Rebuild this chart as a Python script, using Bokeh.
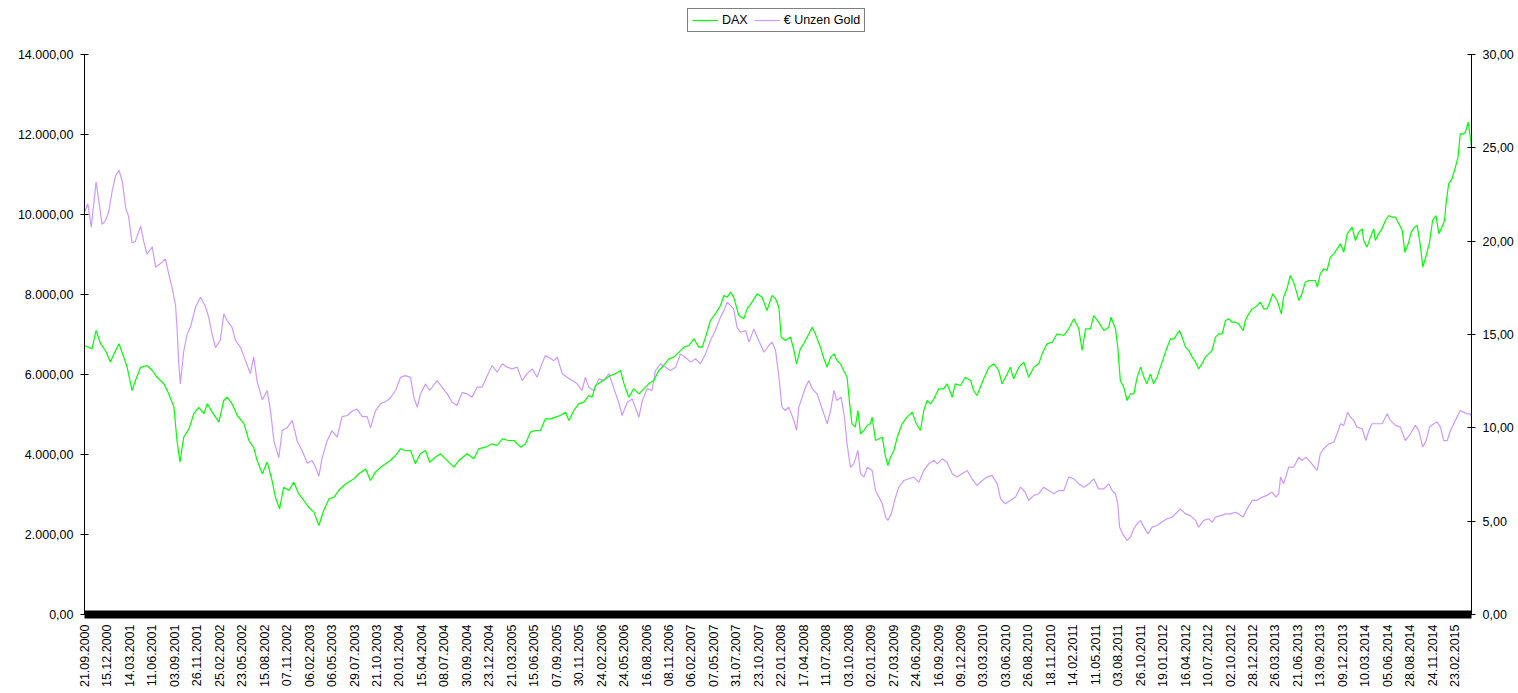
import math
from bokeh.plotting import figure
from bokeh.layouts import column
from bokeh.models import Range1d, LinearAxis, FixedTicker, Legend, LegendItem
from bokeh.embed import file_html
from bokeh.resources import INLINE

# ---------------- data ----------------
# x = trading-day index (category axis, one label every 60 trading days)
date_labels = [
    "21.09.2000", "15.12.2000", "14.03.2001", "11.06.2001", "03.09.2001", "26.11.2001",
    "25.02.2002", "23.05.2002", "15.08.2002", "07.11.2002", "06.02.2003", "06.05.2003",
    "29.07.2003", "21.10.2003", "20.01.2004", "15.04.2004", "08.07.2004", "30.09.2004",
    "23.12.2004", "21.03.2005", "15.06.2005", "07.09.2005", "30.11.2005", "24.02.2006",
    "24.05.2006", "16.08.2006", "08.11.2006", "06.02.2007", "07.05.2007", "31.07.2007",
    "23.10.2007", "22.01.2008", "17.04.2008", "11.07.2008", "03.10.2008", "02.01.2009",
    "27.03.2009", "24.06.2009", "16.09.2009", "09.12.2009", "03.03.2010", "03.06.2010",
    "26.08.2010", "18.11.2010", "14.02.2011", "11.05.2011", "03.08.2011", "26.10.2011",
    "19.01.2012", "16.04.2012", "10.07.2012", "02.10.2012", "28.12.2012", "26.03.2013",
    "21.06.2013", "13.09.2013", "09.12.2013", "10.03.2014", "05.06.2014", "28.08.2014",
    "24.11.2014", "23.02.2015",
]
label_step = 60
n_days = 3705

dax_idx = [0, 20, 31, 43, 56, 69, 83, 92, 105, 114, 127, 136, 150, 167, 181, 194, 212, 225, 239, 247,
           255, 265, 279, 292, 305, 319, 328, 341, 359, 372, 381, 394, 408, 426, 439, 452, 461, 475, 488, 501,
           510, 521, 532, 546, 559, 572, 586, 599, 613, 626, 639, 653, 666, 679, 693, 706, 719, 733, 751, 764,
           777, 791, 804, 817, 831, 844, 857, 871, 884, 897, 911,
           922, 937, 951, 964, 987, 1000, 1022, 1040, 1053, 1071, 1089, 1102, 1116, 1133, 1147, 1165, 1178, 1191,
           1205, 1218, 1231, 1245, 1258, 1271, 1285, 1294, 1307, 1320, 1334, 1347, 1356, 1365, 1378, 1392, 1405,
           1418, 1432, 1441, 1454, 1467, 1481, 1494, 1507, 1521, 1534, 1547, 1561, 1574, 1588, 1601, 1614, 1628,
           1641, 1650, 1659, 1672, 1685, 1699, 1708, 1717, 1726, 1734, 1748, 1761, 1770, 1783, 1797, 1810, 1823,
           1832, 1837,
           1846, 1855, 1861, 1872, 1886, 1895, 1902, 1912, 1921, 1935, 1944, 1952, 1966, 1975, 1984, 1993, 2002,
           2010, 2019, 2028, 2037, 2044, 2050, 2059, 2066, 2073, 2082, 2091, 2099, 2104, 2113, 2122, 2131, 2140,
           2146, 2153, 2162, 2171, 2184, 2197, 2211, 2220, 2233, 2242, 2251, 2260, 2269, 2282, 2295, 2304, 2318,
           2326, 2340, 2353, 2367, 2375, 2384, 2393, 2402, 2416, 2429, 2442, 2451, 2465, 2473, 2482, 2496, 2509,
           2522, 2536, 2549, 2558, 2571, 2585, 2598, 2616, 2629, 2643, 2656, 2665, 2674, 2687, 2696, 2709, 2723,
           2736, 2742, 2754, 2760,
           2767, 2776, 2785, 2794, 2803, 2812, 2821, 2830, 2838, 2847, 2856, 2865, 2874, 2883, 2892, 2901, 2910,
           2919, 2925, 2932, 2941, 2950, 2959, 2968, 2976, 2985, 2994, 3003, 3012, 3021, 3030, 3039, 3048, 3057,
           3065, 3074, 3083, 3095, 3101, 3110, 3119, 3128, 3141, 3150, 3159, 3168, 3174, 3186, 3197, 3203, 3212,
           3221, 3230, 3239, 3244, 3252, 3261, 3270, 3279, 3288, 3293, 3301, 3310, 3319, 3328, 3337, 3346, 3355,
           3364, 3373, 3386, 3395, 3404, 3413, 3417, 3426, 3435, 3444, 3448, 3457, 3466, 3475, 3484, 3493, 3502,
           3511, 3520, 3527, 3536, 3544, 3553, 3560, 3569, 3575, 3584, 3593, 3601, 3610, 3618, 3626, 3633, 3637,
           3644, 3653, 3662, 3669, 3675, 3684, 3689, 3696, 3702, 3705]
dax_val = [6725, 6640, 7100, 6770, 6600, 6310, 6600, 6770, 6430, 6180, 5600, 5850, 6180, 6225, 6100, 5930, 5770, 5520, 5180, 4350,
           3810, 4430, 4640, 5020, 5180, 5020, 5270, 5060, 4810, 5350, 5430, 5270, 4975, 4770, 4350, 4180, 3850, 3520, 3810, 3350,
           2930, 2640, 3180, 3100, 3310, 3020, 2850, 2680, 2560, 2225, 2600, 2890, 2930, 3100, 3230, 3310, 3390, 3520, 3640, 3350,
           3560, 3680, 3770, 3850, 3975, 4140, 4100, 4100, 3770, 4020, 4100,
           3808, 3933, 4017, 3892, 3683, 3850, 4017, 3892, 4142, 4183, 4267, 4225, 4392, 4350, 4350, 4183, 4267, 4558,
           4600, 4600, 4892, 4892, 4933, 4975, 5058, 4850, 5100, 5267, 5308, 5475, 5433, 5725, 5808, 5892, 5975,
           6017, 6100, 5767, 5433, 5642, 5517, 5642, 5767, 5850, 6100, 6225, 6392, 6433, 6558, 6683, 6725, 6892,
           6683, 6683, 6933, 7350, 7517, 7725, 7975, 7933, 8058, 7933, 7475, 7392, 7642, 7808, 8017, 7933, 7600,
           7850, 7975,
           7892, 7683, 6933, 6850, 6933, 6600, 6267, 6642, 6767, 7017, 7183, 7017, 6683, 6392, 6183, 6433, 6517,
           6350, 6267, 6100, 5933, 5267, 4767, 4683, 5100, 4517, 4600, 4725, 4767, 4933, 4350, 4392, 4433, 3933,
           3725, 3933, 4100, 4433, 4767, 4933, 5058, 4808, 4600, 5100, 5350, 5267, 5392, 5642, 5642, 5767, 5433,
           5767, 5725, 5933, 5850, 5600, 5475, 5683, 5892, 6183, 6267, 6100, 5767, 6017, 6183, 5892, 6183, 6308,
           5933, 6183, 6267, 6517, 6767, 6808, 7017, 6975, 7142, 7392, 7142, 6600, 7142, 7142, 7475, 7308, 7100,
           7183, 7433, 7142, 6683,
           5850, 5683, 5350, 5517, 5517, 5933, 6183, 5933, 5767, 6017, 5767, 5933, 6183, 6433, 6683, 6892, 6892,
           7017, 7100, 6933, 6683, 6600, 6433, 6308, 6142, 6267, 6433, 6517, 6600, 6933, 7017, 7017, 7350, 7392,
           7308, 7308, 7267, 7100, 7350, 7517, 7642, 7683, 7808, 7642, 7642, 7850, 8017, 7850, 7517, 7933, 8142,
           8475, 8308, 8017, 7850, 8017, 8308, 8350, 8350, 8350, 8183, 8517, 8642, 8600, 8933, 9017, 9142, 9267,
           9058, 9517, 9683, 9350, 9558, 9642, 9350, 9183, 9433, 9642, 9350, 9517, 9642, 9850, 9975, 9933, 9933,
           9767, 9600, 9058, 9267, 9558, 9683, 9725, 9183, 8683, 8975, 9308, 9850, 9975, 9517, 9683, 9850, 10267,
           10767, 10892, 11183, 11433, 12017, 12017, 12058, 12308, 11933, 11683]

gold_idx = [0, 9, 18, 31, 38, 47, 56, 65, 74, 83, 92, 101, 110, 118, 127, 136, 150, 158, 167, 181, 190, 203, 216,
            225, 234, 243, 247, 252, 256, 265, 274, 283, 297, 310, 323, 332, 341, 350, 363, 372, 381, 394, 403, 417,
            430, 443, 452, 461, 475, 488, 497, 506, 519, 528, 541, 555, 568, 581, 595, 608, 617, 626, 635, 648, 661,
            675, 688, 702, 715, 728, 742, 755, 764, 777, 791, 804, 817, 831, 844, 857, 871, 880, 889, 897, 911,
            922, 942, 955, 969, 982, 995, 1009, 1022, 1035, 1049, 1062, 1076, 1089, 1102, 1116, 1129, 1142, 1156,
            1169, 1182, 1196, 1209, 1222, 1231, 1240, 1254, 1263, 1276, 1289, 1303, 1316, 1329, 1338, 1347, 1360,
            1374, 1387, 1401, 1414, 1427, 1436, 1450, 1463, 1481, 1490, 1503, 1516, 1525, 1539, 1552, 1565, 1579,
            1592, 1605, 1619, 1632, 1645, 1659, 1672, 1685, 1699, 1708, 1717, 1726, 1734, 1743, 1752, 1766, 1775,
            1788, 1801, 1815, 1828, 1837,
            1846, 1855, 1863, 1872, 1881, 1895, 1902, 1908, 1917, 1926, 1935, 1944, 1957, 1966, 1975, 1984, 1993,
            2002, 2010, 2021, 2030, 2037, 2046, 2055, 2066, 2073, 2082, 2091, 2104, 2113, 2122, 2131, 2140, 2146,
            2155, 2164, 2175, 2189, 2202, 2215, 2229, 2242, 2255, 2269, 2278, 2291, 2304, 2318, 2331, 2344, 2358,
            2371, 2384, 2398, 2411, 2424, 2438, 2447, 2460, 2473, 2487, 2500, 2513, 2522, 2536, 2549, 2562, 2576,
            2589, 2603, 2616, 2629, 2643, 2656, 2669, 2683, 2696, 2709, 2723, 2736, 2745, 2754, 2760,
            2765, 2773, 2785, 2794, 2803, 2812, 2821, 2830, 2841, 2852, 2865, 2878, 2892, 2905, 2919, 2927, 2941,
            2954, 2968, 2976, 2990, 3003, 3012, 3021, 3034, 3048, 3061, 3074, 3083, 3095, 3106, 3119, 3132, 3146,
            3159, 3172, 3183, 3190, 3195, 3203, 3217, 3230, 3244, 3252, 3263, 3275, 3285, 3293, 3301, 3310, 3324,
            3337, 3346, 3355, 3364, 3374, 3382, 3390, 3399, 3413, 3423, 3431, 3439, 3453, 3466, 3480, 3488, 3502,
            3515, 3528, 3542, 3555, 3564, 3575, 3584, 3593, 3604, 3613, 3622, 3631, 3640, 3649, 3662, 3675, 3684,
            3693, 3702, 3705]
gold_val = [21.55, 22.0, 20.75, 23.16, 22.2, 20.9, 21.1, 21.6, 22.7, 23.5, 23.8, 23.2, 21.8, 21.3, 19.9, 20.0, 20.8, 20.0,
            19.3, 19.7, 18.6, 18.8, 19.05, 18.25, 17.5, 16.6, 15.4, 13.4, 12.35, 14.1, 15.0, 15.4, 16.5, 17.0, 16.5,
            15.9, 15.0, 14.3, 14.7, 16.1, 15.75, 15.4, 14.7, 14.3, 13.6, 12.9, 13.8, 12.5, 11.5, 12.0, 10.9, 9.3, 8.4,
            9.85, 10.0, 10.4, 9.3, 8.8, 8.1, 8.25, 7.9, 7.4, 8.4, 9.3, 9.85, 9.5, 10.6, 10.66, 10.9, 11.0, 10.6, 10.6,
            10.0, 10.9, 11.3, 11.4, 11.6, 12.0, 12.7, 12.8, 12.7, 11.6, 11.1, 11.8, 12.35,
            12.0, 12.53, 12.18, 11.82, 11.37, 11.2, 11.9, 11.82, 11.64, 12.18, 12.18, 12.8, 13.34, 12.98, 13.43,
            13.25, 13.16, 13.25, 12.53, 12.9, 13.16, 12.71, 13.43, 13.87, 13.78, 13.6, 13.78, 12.9, 12.71, 12.53,
            12.36, 12.0, 12.71, 12.18, 12.0, 12.62, 12.53, 12.9, 12.1, 11.37, 10.66, 11.37, 11.55, 10.57, 11.46,
            12.1, 12.0, 13.07, 13.43, 13.25, 13.07, 13.25, 13.96, 13.78, 13.52, 13.7, 13.43, 13.96, 14.68, 15.21,
            15.93, 16.28, 16.73, 16.55, 16.37, 15.39, 15.12, 15.21, 14.59, 15.3, 14.68, 14.05, 14.41, 14.59,
            14.14, 12.72, 11.11, 10.93, 11.11, 10.39, 9.86, 11.11, 11.64, 12.18, 12.54, 12.09, 11.82, 11.29, 10.75,
            10.21, 10.93, 12.0, 11.46, 11.64, 10.57, 9.14, 7.89, 8.07, 8.79, 7.54, 7.36, 7.89, 7.71, 6.64, 6.29,
            5.93, 5.22, 5.04, 5.39, 6.11, 6.82, 7.18, 7.27, 7.36, 7.09, 7.71, 8.07, 8.25, 8.07, 8.34, 8.16, 7.54,
            7.36, 7.54, 7.71, 7.27, 6.91, 7.18, 7.36, 7.45, 7.0, 6.2, 5.93, 6.11, 6.29, 6.82, 6.55, 6.11, 6.38,
            6.47, 6.82, 6.64, 6.47, 6.64, 6.64, 7.36, 7.27, 7.0, 6.82, 7.0, 7.27, 6.73, 6.73, 7.0, 6.64, 6.47, 5.93,
            4.68, 4.32, 3.97, 4.15, 4.59, 4.86, 5.04, 4.68, 4.32, 4.68, 4.77, 4.95, 5.13, 5.22, 5.48, 5.66, 5.39,
            5.3, 5.04, 4.68, 5.04, 5.13, 4.95, 5.22, 5.3, 5.39, 5.39, 5.48, 5.39, 5.22, 5.66, 6.11, 6.11, 6.29,
            6.38, 6.56, 6.29, 6.47, 7.36, 7.0, 7.9, 7.9, 8.43, 8.25, 8.43, 8.16, 7.9, 7.72, 8.61, 8.88, 9.14,
            9.23, 9.68, 10.22, 10.13, 10.84, 10.57, 10.4, 10.04, 9.95, 9.32, 9.86, 10.22, 10.22, 10.22, 10.75, 10.4,
            10.13, 10.04, 9.32, 9.68, 10.13, 9.86, 8.97, 9.32, 10.04, 10.22, 10.31, 10.04, 9.32, 9.32, 9.86, 10.4,
            10.93, 10.84, 10.75, 10.75, 10.57]

dax_ticks = [0, 2000, 4000, 6000, 8000, 10000, 12000, 14000]
dax_tick_labels = ["0,00", "2.000,00", "4.000,00", "6.000,00", "8.000,00", "10.000,00", "12.000,00", "14.000,00"]
gold_ticks = [0, 5, 10, 15, 20, 25, 30]
gold_tick_labels = ["0,00", "5,00", "10,00", "15,00", "20,00", "25,00", "30,00"]
series_names = ["DAX", "€ Unzen Gold"]
series_colors = ["#00FF00", "#CC99FF"]

# ---------------- layout constants ----------------
FONT = "Liberation Sans"
FS = "12.5px"
W = 1518
TOP_H = 46          # strip that holds the legend
MAIN_H = 693 - TOP_H

# ---------------- legend strip ----------------
# same series drawn here far outside the visible range: they only feed the legend glyphs
top = figure(width=W, height=TOP_H, output_backend="svg", toolbar_location=None,
             x_range=Range1d(0, n_days), y_range=Range1d(-200000, -100000),
             min_border_left=0, min_border_right=0, min_border_top=0, min_border_bottom=0)
top.extra_y_ranges = {"gold": Range1d(-200, -100)}
top.axis.visible = False
top.xgrid.visible = False
top.ygrid.visible = False
top.outline_line_color = None
lg_dax = top.line(dax_idx, dax_val, line_color=series_colors[0], line_width=1.2)
lg_gold = top.line(gold_idx, gold_val, line_color=series_colors[1], line_width=1.2, y_range_name="gold")
legend = Legend(items=[LegendItem(label=series_names[0], renderers=[lg_dax]),
                       LegendItem(label=series_names[1], renderers=[lg_gold])],
                location=(603, 14), orientation="horizontal",
                margin=0, padding=4, spacing=6, label_standoff=4,
                glyph_width=26, glyph_height=14, label_height=14,
                label_text_font=FONT, label_text_font_size=FS, label_text_color="black",
                border_line_color="black", border_line_width=1, background_fill_alpha=1.0)
top.add_layout(legend, "center")

# ---------------- main chart ----------------
p = figure(width=W, height=MAIN_H, output_backend="svg", toolbar_location=None,
           x_range=Range1d(0, n_days), y_range=Range1d(0, 14000),
           min_border_left=84, min_border_right=47, min_border_top=8, min_border_bottom=79)
p.extra_y_ranges = {"gold": Range1d(0, 30)}
p.xgrid.visible = False
p.ygrid.visible = False
p.outline_line_color = None
p.background_fill_color = "white"
p.border_fill_color = "white"

# x axis (category-like, dense tick band)
xa = p.xaxis[0]
date_pos = [i * label_step for i in range(len(date_labels))]
xa.ticker = FixedTicker(ticks=date_pos, minor_ticks=[])
xa.major_label_overrides = {pos: lab for pos, lab in zip(date_pos, date_labels)}
xa.major_label_orientation = math.pi / 2
xa.axis_line_width = 8
xa.axis_line_color = "black"
xa.major_tick_in = 0
xa.major_tick_out = 0
xa.minor_tick_in = 0
xa.minor_tick_out = 0
xa.major_label_standoff = 10
xa.major_label_text_font = FONT
xa.major_label_text_font_size = FS
xa.major_label_text_color = "black"

# left axis
ya = p.yaxis[0]
ya.ticker = FixedTicker(ticks=dax_ticks, minor_ticks=[])
ya.major_label_overrides = {t: l for t, l in zip(dax_ticks, dax_tick_labels)}
ya.major_tick_in = 4
ya.major_tick_out = 4
ya.minor_tick_in = 0
ya.minor_tick_out = 0
ya.major_label_standoff = 7
ya.major_label_text_font = FONT
ya.major_label_text_font_size = FS
ya.major_label_text_color = "black"
ya.axis_line_color = "black"
ya.major_tick_line_color = "black"

# right axis
ra = LinearAxis(y_range_name="gold")
ra.ticker = FixedTicker(ticks=gold_ticks, minor_ticks=[])
ra.major_label_overrides = {t: l for t, l in zip(gold_ticks, gold_tick_labels)}
ra.major_tick_in = 4
ra.major_tick_out = 4
ra.minor_tick_in = 0
ra.minor_tick_out = 0
ra.major_label_standoff = 7
ra.major_label_text_font = FONT
ra.major_label_text_font_size = FS
ra.major_label_text_color = "black"
ra.axis_line_color = "black"
p.add_layout(ra, "right")

# lines
p.line(gold_idx, gold_val, line_color=series_colors[1], line_width=1.2, y_range_name="gold")
p.line(dax_idx, dax_val, line_color=series_colors[0], line_width=1.2)

layout = column(top, p, spacing=0)
open("out.html", "w").write(file_html(layout, INLINE))
